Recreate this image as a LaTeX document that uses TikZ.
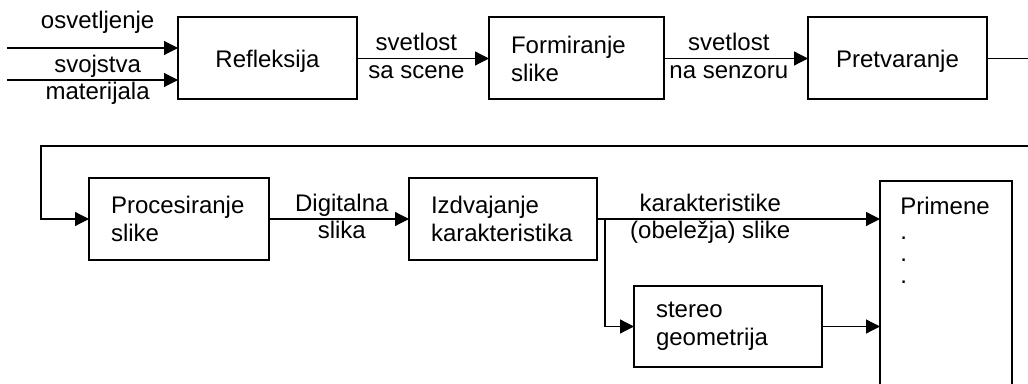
\documentclass[tikz,border=0pt]{standalone}
\usepackage{fontspec}
\setmainfont{Liberation Sans}
\usepackage{tikz}
\usetikzlibrary{positioning,arrows.meta}

\begin{document}
\begin{tikzpicture}[x=0.5pt, y=-0.5pt,
blocknode/.style={rectangle, draw=black, line width=1pt, minimum height=41pt, inner sep=0pt, outer sep=0pt, font=\fontsize{12}{14}\selectfont},
leftnode/.style={blocknode, align=left, inner xsep=11pt, text width=#1},
labelnode/.style={font=\fontsize{12}{14}\selectfont, text height=8.5pt, text depth=2.5pt, inner sep=1pt},
thinline/.style={line width=0.6pt},
flowarrow/.style={line width=0.6pt, -{Triangle[length=7pt, width=7pt]}},
]
\useasboundingbox (0,0) rectangle (1028,384);
\clip (0,0) rectangle (1028,384);

%Nodes
\node[blocknode, minimum width=89.5pt, text depth=0pt] (refl) at (267.5,58.5) {Refleksija};
\node[leftnode=65.5pt]      (form)      [right=66pt of refl]        {Formiranje\\slike};
\node[blocknode, minimum width=89.5pt, text depth=0pt] (pret) [right=72pt of form] {Pretvaranje};
\node[leftnode=68pt]        (proc)      at (179,219)                {Procesiranje\\slike};
\node[leftnode=72pt]        (izdv)      [right=70pt of proc]        {Izdvajanje\\karakteristika};
\node[leftnode=72pt, minimum height=40.5pt] (stereo) [below right=13pt and 18.5pt of izdv.south east] {stereo\\geometrija};
\node[blocknode, minimum width=66pt, minimum height=110pt, below right=1.5pt and 141.5pt of izdv.north east] (prim) {};
\node[font=\fontsize{12}{10.5}\selectfont, align=left, inner sep=0pt, anchor=north west] (primtext) at ([xshift=10pt, yshift=-8pt]prim.north west) {Primene\\[2pt].\\[0.5pt].\\[0.5pt].};

\coordinate (in1) at (7,48);
\coordinate (in2) at (7,80);
\coordinate (split) at ([xshift=4pt]izdv.east);
\coordinate (loop) at (41,146);

%Lines
\draw[flowarrow] (in1) -- (in1 -| refl.west) node[labelnode, pos=0.53, above=6pt] {osvetljenje};
\draw[flowarrow] (in2) -- (in2 -| refl.west) node[labelnode, pos=0.53, above] {svojstva} node[labelnode, pos=0.53, below] {materijala};
\draw[flowarrow] (refl) -- (form) node[labelnode, pos=0.45, above] {svetlost} node[labelnode, pos=0.45, below] {sa scene};
\draw[flowarrow] (form) -- (pret) node[labelnode, pos=0.45, above] {svetlost} node[labelnode, pos=0.45, below] {na senzoru};
\draw[flowarrow] (pret.east) -- ++(40pt,0) |- (loop) |- (proc.west);
\draw[flowarrow] (proc) -- (izdv) node[labelnode, pos=0.52, above] {Digitalna} node[labelnode, pos=0.52, below] {slika};
\draw[flowarrow] (izdv.east) -- (izdv.east -| prim.west) node[labelnode, pos=0.4, above] {karakteristike} node[labelnode, pos=0.4, below] {(obeležja) slike};
\draw[flowarrow] (split) |- (stereo.west);
\draw[flowarrow] (stereo.east) -- (stereo.east -| prim.west);
\end{tikzpicture}
\end{document}
